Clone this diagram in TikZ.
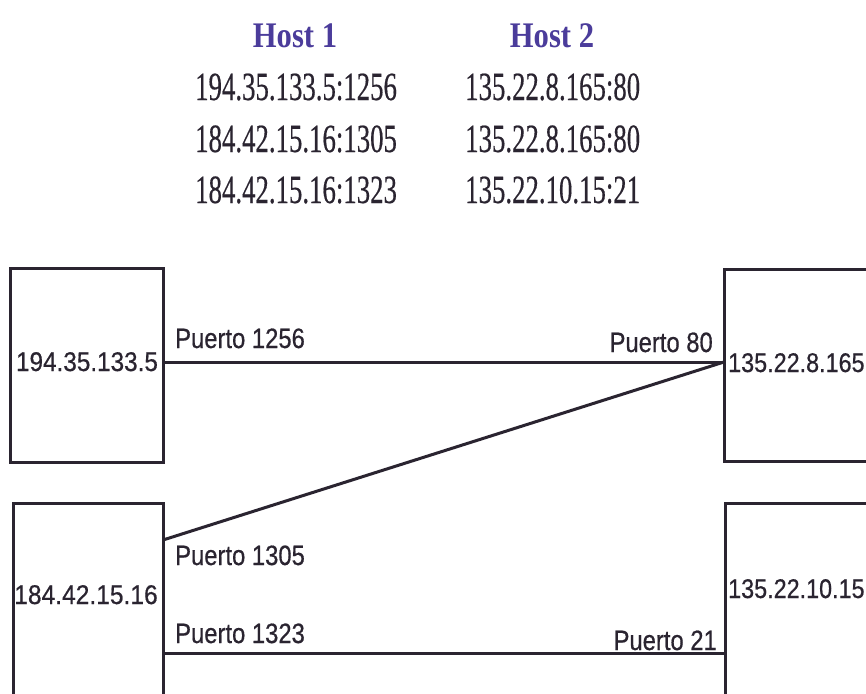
\documentclass[tikz,border=0pt]{standalone}
\usepackage{fontspec}
\usepackage{graphicx}
\setmainfont{Liberation Serif}
\newfontfamily\tabfont[FakeBold=0.5]{Liberation Serif}
\newfontfamily\labelfont[FakeBold=0.6]{Liberation Sans}
\definecolor{ink}{RGB}{42,36,48}
\definecolor{hostblue}{RGB}{75,60,155}
\newcommand{\narrow}[2]{\scalebox{#1}[1]{#2}}
\begin{document}
\begin{tikzpicture}[x=1pt,y=1pt,
  hostbox/.style={draw=ink, line width=3pt, fill=white, outer sep=0pt, inner sep=0pt, anchor=north west},
  link/.style={draw=ink, line width=3pt},
  header/.style={anchor=base, inner sep=0pt, text=hostblue, font=\bfseries\fontsize{36}{36}\selectfont},
  tabtext/.style={anchor=base west, inner sep=0pt, text=ink, font=\tabfont\fontsize{40}{40}\selectfont},
  port/.style={inner sep=0pt, text=ink, font=\labelfont\fontsize{28}{28}\selectfont},
  ip/.style={inner sep=0pt, text=ink, font=\labelfont\fontsize{27}{27}\selectfont}]
\useasboundingbox (0,0) rectangle (866,-693);
\clip (0,0) rectangle (866,-693);
\fill[white] (0,0) rectangle (866,-693);

% table
\node[header] (h1) at (295,-48) {\narrow{0.85}{Host 1}};
\node[header] (h2) at (552,-48) {\narrow{0.85}{Host 2}};
\node[tabtext] (r1a) at (195,-100) {\narrow{0.67}{194.35.133.5:1256}};
\node[tabtext] (r2a) at (195,-152) {\narrow{0.67}{184.42.15.16:1305}};
\node[tabtext] (r3a) at (195,-203) {\narrow{0.67}{184.42.15.16:1323}};
\node[tabtext] (r1b) at (465,-100) {\narrow{0.67}{135.22.8.165:80}};
\node[tabtext] (r2b) at (465,-152) {\narrow{0.67}{135.22.8.165:80}};
\node[tabtext] (r3b) at (465,-203) {\narrow{0.67}{135.22.10.15:21}};

% boxes
\node[hostbox, minimum width=153pt, minimum height=194pt] (A) at (10,-268) {};
\node[hostbox, minimum width=196pt, minimum height=192pt] (B) at (724,-269) {};
\node[hostbox, minimum width=150pt, minimum height=230pt] (C) at (13,-503) {};
\node[hostbox, minimum width=196pt, minimum height=230pt] (D) at (725,-503) {};

% connectors
\draw[link] ([yshift=3pt]A.east) -- ([yshift=3pt]B.west);
\draw[link] ([yshift=-37pt]C.north east) -- ([yshift=3pt]B.west);
\draw[link] ([yshift=-150pt]C.north east) -- ([yshift=-150pt]D.north west);

% box texts
\node[ip, anchor=base] (tA) at (87,-371) {\narrow{0.9}{194.35.133.5}};
\node[ip, anchor=base west] (tB) at (728,-372) {\narrow{0.865}{135.22.8.165}};
\node[ip, anchor=base] (tC) at (86,-604) {\narrow{0.91}{184.42.15.16}};
\node[ip, anchor=base west] (tD) at (728,-598) {\narrow{0.865}{135.22.10.15}};

% port labels
\node[port, anchor=base west] (p1) at (175,-348) {\narrow{0.85}{Puerto 1256}};
\node[port, anchor=base east] (p2) at (713,-352) {\narrow{0.85}{Puerto 80}};
\node[port, anchor=base west] (p3) at (175,-565) {\narrow{0.85}{Puerto 1305}};
\node[port, anchor=base west] (p4) at (175,-643) {\narrow{0.85}{Puerto 1323}};
\node[port, anchor=base east] (p5) at (717,-650) {\narrow{0.85}{Puerto 21}};
\end{tikzpicture}
\end{document}
